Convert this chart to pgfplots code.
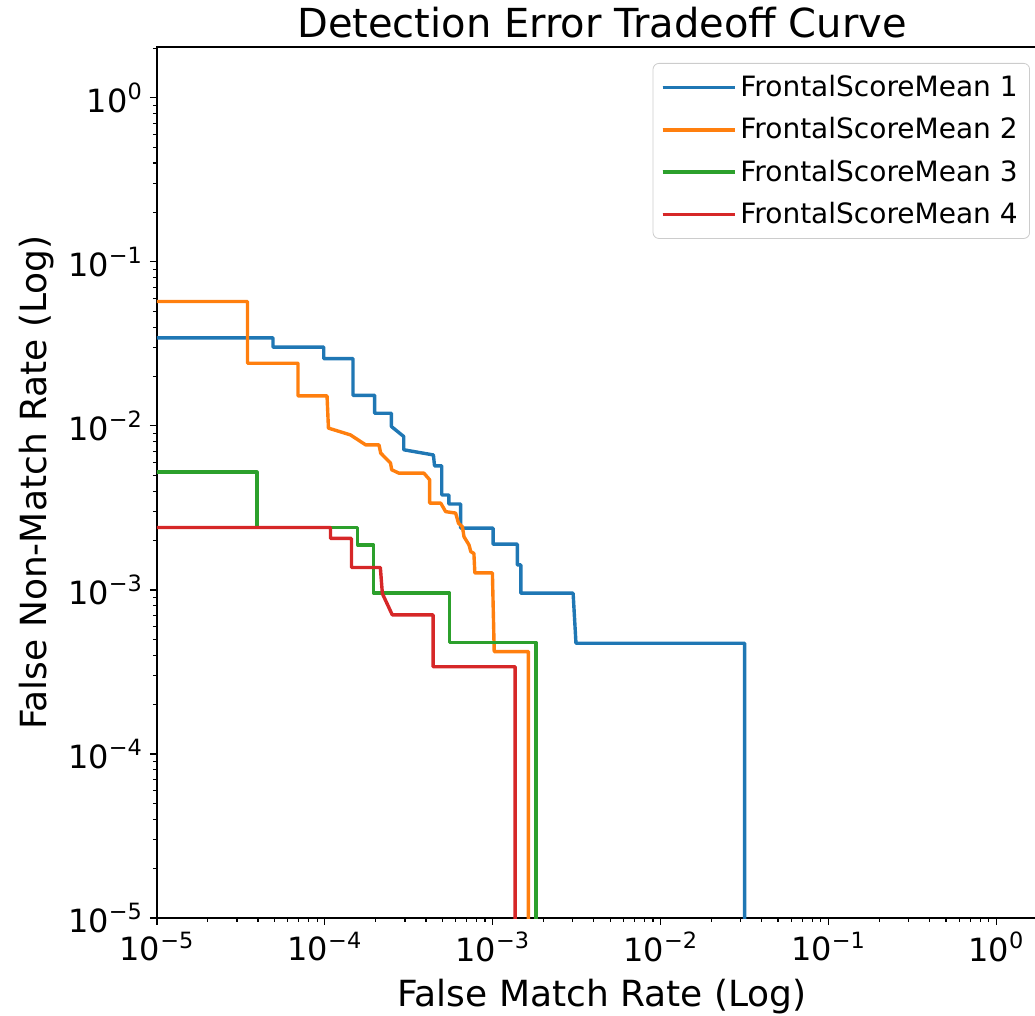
\documentclass[border=0pt]{standalone}
\usepackage{fontspec}
\setmainfont{DejaVu Sans}
\usepackage{pgfplots}
\pgfplotsset{compat=1.18}
\definecolor{c1}{HTML}{1F77B4}
\definecolor{c2}{HTML}{FF7F0E}
\definecolor{c3}{HTML}{2CA02C}
\definecolor{c4}{HTML}{D62728}
\newcommand{\tl}[1]{10\textsuperscript{#1}}
\newcommand{\fs}{\fontsize{16}{19}\selectfont}

\begin{document}
\begin{tikzpicture}
\begin{axis}[
  scale only axis, width=445pt, height=435.5pt,
  xmode=log, ymode=log,
  xmin=1e-5, xmax=2, ymin=1e-5, ymax=2.04,
  xtick={1e-5,1e-4,1e-3,1e-2,1e-1,1},
  xticklabels={\tl{−5},\tl{−4},\tl{−3},\tl{−2},\tl{−1},\tl{0}},
  ytick={1e-5,1e-4,1e-3,1e-2,1e-1,1},
  yticklabels={\tl{−5},\tl{−4},\tl{−3},\tl{−2},\tl{−1},\tl{0}},
  minor xtick={2e-5,3e-5,4e-5,5e-5,6e-5,7e-5,8e-5,9e-5,
    2e-4,3e-4,4e-4,5e-4,6e-4,7e-4,8e-4,9e-4,
    2e-3,3e-3,4e-3,5e-3,6e-3,7e-3,8e-3,9e-3,
    2e-2,3e-2,4e-2,5e-2,6e-2,7e-2,8e-2,9e-2,
    0.2,0.3,0.4,0.5,0.6,0.7,0.8,0.9,2},
  minor ytick={2e-5,3e-5,4e-5,5e-5,6e-5,7e-5,8e-5,9e-5,
    2e-4,3e-4,4e-4,5e-4,6e-4,7e-4,8e-4,9e-4,
    2e-3,3e-3,4e-3,5e-3,6e-3,7e-3,8e-3,9e-3,
    2e-2,3e-2,4e-2,5e-2,6e-2,7e-2,8e-2,9e-2,
    0.2,0.3,0.4,0.5,0.6,0.7,0.8,0.9,2},
  tick align=outside, tick pos=left,
  major tick length=3.5pt, minor tick length=2pt,
  every tick/.style={black, line width=0.6pt},
  axis line style={black, line width=0.8pt},
  tick label style={font=\fs},
  label style={font=\fontsize{18}{21}\selectfont},
  xlabel={False Match Rate (Log)},
  ylabel={False Non-Match Rate (Log)},
  xlabel style={yshift=-2pt},
  title={Detection Error Tradeoff Curve},
  title style={font=\fontsize{20}{24}\selectfont, anchor=base, yshift=-1.5pt},
  legend cell align=left,
  legend image code/.code={\draw[#1] (0pt,0pt) -- (29pt,0pt); \path (0pt,0pt) -- (36pt,0pt);},
  legend style={at={(1,1)}, anchor=north east, xshift=-8.5pt, yshift=-8pt,
    font=\fontsize{14}{17}\selectfont, draw=black!20, rounded corners=3pt,
    inner xsep=4pt, inner ysep=4pt, row sep=5pt},
  every axis plot/.append style={line width=1.7pt, line join=round},
]
\coordinate (bl) at (rel axis cs:0,0);

\addplot[c1] coordinates {
 (1e-6,0.0344) (4.91e-5,0.0344) (4.91e-5,0.0302) (9.84e-5,0.0302) (9.84e-5,0.0257)
 (1.47e-4,0.0257) (1.47e-4,0.01535) (1.98e-4,0.01535) (1.98e-4,0.01194)
 (2.49e-4,0.01194) (2.49e-4,0.00991) (2.95e-4,0.00861) (2.95e-4,0.00715)
 (4.43e-4,0.00665) (4.50e-4,0.0057) (4.97e-4,0.0057) (4.97e-4,0.00379)
 (5.48e-4,0.00379) (5.48e-4,0.00334) (6.44e-4,0.00334) (6.44e-4,0.00238)
 (1.005e-3,0.00238) (1.005e-3,0.0019) (1.40e-3,0.0019) (1.40e-3,0.00142)
 (1.47e-3,0.00142) (1.47e-3,0.000955) (3.01e-3,0.000955) (3.13e-3,0.000473)
 (0.0316,0.000473) (0.0316,1e-6)};
\addlegendentry{FrontalScoreMean 1}

\addplot[c2] coordinates {
 (1e-6,0.0573) (3.46e-5,0.0573) (3.46e-5,0.0241) (6.92e-5,0.0241) (6.92e-5,0.01524)
 (1.03e-4,0.01524) (1.05e-4,0.00969) (1.42e-4,0.00881) (1.75e-4,0.00766)
 (2.10e-4,0.00766) (2.15e-4,0.00683) (2.46e-4,0.00593) (2.50e-4,0.0054)
 (2.76e-4,0.00515) (3.89e-4,0.00515) (4.21e-4,0.00469) (4.21e-4,0.00338)
 (4.90e-4,0.00338) (5.24e-4,0.0030) (6.01e-4,0.00294) (6.25e-4,0.00255)
 (6.59e-4,0.00243) (6.74e-4,0.00211) (7.22e-4,0.00188) (7.40e-4,0.00171)
 (7.72e-4,0.00167) (7.82e-4,0.00127) (9.95e-4,0.00127) (1.02e-3,0.000421)
 (1.63e-3,0.000421) (1.63e-3,1e-6)};
\addlegendentry{FrontalScoreMean 2}

\addplot[c3] coordinates {
 (1e-6,0.00523) (3.94e-5,0.00523) (3.94e-5,0.0024) (1.57e-4,0.0024) (1.57e-4,0.00188)
 (1.95e-4,0.00188) (1.95e-4,0.000955) (5.53e-4,0.000955) (5.53e-4,0.000478)
 (1.81e-3,0.000478) (1.81e-3,1e-6)};
\addlegendentry{FrontalScoreMean 3}

\addplot[c4] coordinates {
 (1e-6,0.0024) (1.08e-4,0.0024) (1.08e-4,0.00206) (1.44e-4,0.00206) (1.44e-4,0.00137)
 (2.14e-4,0.00137) (2.20e-4,0.00095) (2.52e-4,0.000705) (4.41e-4,0.000705)
 (4.41e-4,0.00034) (1.36e-3,0.00034) (1.36e-3,1e-6)};
\addlegendentry{FrontalScoreMean 4}
\end{axis}
\pgfresetboundingbox
\path (bl) ++(-78.5pt,-49pt) rectangle ++(517.5pt,508pt);
\end{tikzpicture}
\end{document}
